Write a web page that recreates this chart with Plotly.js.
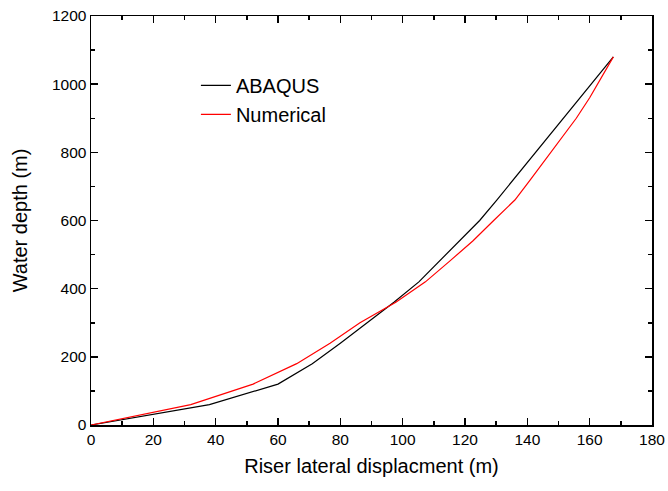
<!DOCTYPE html>
<html>
<head>
<meta charset="utf-8">
<script src="https://cdn.plot.ly/plotly-3.0.1.min.js"></script>
<style>html,body{margin:0;padding:0;background:#fff;}#chart{width:668px;height:491px;}</style>
</head>
<body>
<div id="chart"></div>
<script>
var depth = [0, 60, 120, 180, 240, 300, 360, 420, 480, 540, 600, 660, 720, 780, 840, 900, 960, 1020, 1080];
var abaqusX = [0, 38, 60, 71, 80, 88.5, 97.2, 105.2, 111.8, 118.3, 124.7, 130.2, 135.5, 140.8, 146.1, 151.7, 157, 162.3, 167.6];
var numericalX = [0, 32, 52, 66, 76.7, 86.3, 97.8, 107.3, 115, 122.5, 129.2, 136, 141, 146, 151, 155.7, 160, 163.8, 167.6];

var traces = [
  {x: abaqusX, y: depth, type: 'scatter', mode: 'lines', name: 'ABAQUS',
   line: {color: '#000000', width: 1.2}},
  {x: numericalX, y: depth, type: 'scatter', mode: 'lines', name: 'Numerical',
   line: {color: '#ff0000', width: 1.2}}
];

var fontFam = 'Liberation Sans, Arial, sans-serif';
var axisCommon = {
  showgrid: false, zeroline: false, showline: true, linecolor: '#000', linewidth: 1.5,
  mirror: 'ticks', ticks: 'inside', ticklen: 7, tickwidth: 1.5, tickcolor: '#000',
  tickfont: {family: fontFam, size: 15.5, color: '#000'}
};

var layout = {
  width: 668, height: 491,
  margin: {l: 91, r: 16, t: 16, b: 66},
  paper_bgcolor: '#fff', plot_bgcolor: '#fff',
  showlegend: true,
  legend: {x: 0.187, y: 0.795, xanchor: 'left', yanchor: 'middle', bgcolor: 'rgba(0,0,0,0)',
    font: {family: fontFam, size: 20, color: '#000'}, tracegroupgap: 0},
  xaxis: Object.assign({}, axisCommon, {
    range: [0, 180], dtick: 20, tick0: 0,
    minor: {dtick: 10, ticks: 'inside', ticklen: 4, tickwidth: 1.5, tickcolor: '#000'},
    title: {text: 'Riser lateral displacment (m)', standoff: 12,
      font: {family: fontFam, size: 20, color: '#000'}}
  }),
  yaxis: Object.assign({}, axisCommon, {
    range: [0, 1200], dtick: 200, tick0: 0,
    minor: {dtick: 100, ticks: 'inside', ticklen: 4, tickwidth: 1.5, tickcolor: '#000'},
    title: {text: 'Water depth (m)', standoff: 19,
      font: {family: fontFam, size: 20, color: '#000'}}
  })
};

Plotly.newPlot('chart', traces, layout, {displayModeBar: false, staticPlot: true});
</script>
</body>
</html>
